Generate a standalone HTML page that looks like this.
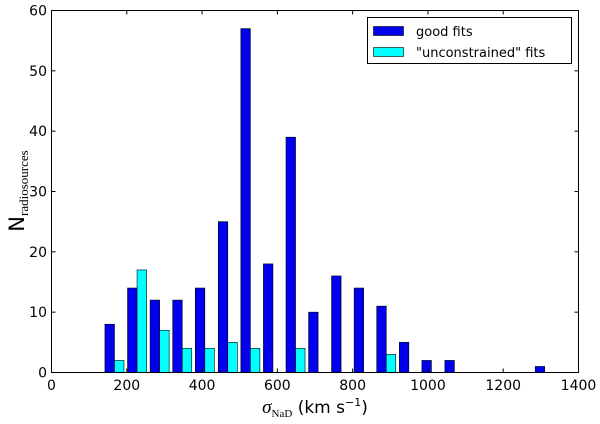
<!DOCTYPE html>
<html><head><meta charset="utf-8"><style>
body{margin:0;background:#fff;width:600px;height:419px;overflow:hidden}
svg text{font-family:"DejaVu Sans","Liberation Sans",sans-serif}
</style></head><body>
<svg id="chart" width="600" height="419" xmlns="http://www.w3.org/2000/svg">
<g id="bars"></g>
<rect x="51.5" y="10.5" width="527" height="362" fill="none" stroke="#000" stroke-width="1"/>
<g id="ticks"></g>
<text x="315" y="413" font-size="17" text-anchor="middle"><tspan font-family="Liberation Serif" font-style="italic" font-size="19">σ</tspan><tspan font-family="Liberation Serif" font-size="11" dy="4">NaD</tspan><tspan dy="-4"> (km s</tspan><tspan font-size="11" dy="-7">−1</tspan><tspan dy="7">)</tspan></text>
<text transform="translate(24,191) rotate(-90)" font-size="21" text-anchor="middle">N<tspan font-family="Liberation Serif" font-size="13" dy="4">radiosources</tspan></text>
<g>
<rect x="367.5" y="17.5" width="204" height="46" fill="#fff" stroke="#000"/>
<rect x="373.5" y="26.5" width="30" height="9" fill="#0000ee" stroke="#000" stroke-width="0.6"/>
<text x="416" y="36" font-size="13">good fits</text>
<rect x="373.5" y="47.5" width="30" height="9" fill="#00ffff" stroke="#000" stroke-width="0.6"/>
<text x="416" y="57" font-size="13">"unconstrained" fits</text>
</g>
</svg>
<script>
const binStarts=[142,202,262,322,382,443,503,563,623,683,744,804,864,924,984,1045,1105,1165,1225,1285];
const goodFits=[8,14,12,12,14,25,57,18,39,10,16,14,11,5,2,2,0,0,0,1];
const unconstrainedFits=[2,17,7,4,4,5,4,0,4,0,0,0,3,0,0,0,0,0,0,0];
const xTicks=[0,200,400,600,800,1000,1200,1400];
const yTicks=[0,10,20,30,40,50,60];
const binWidth=60.2;
const NS='http://www.w3.org/2000/svg';
const X=v=>51.5+v*(527/1400);
const Y=v=>372.5-v*(362/60);
const bars=document.getElementById('bars');
function bar(x0,val,color,name){
  if(val<=0)return;
  const r=document.createElementNS(NS,'rect');
  r.setAttribute('x',X(x0));r.setAttribute('width',X(x0+binWidth*0.42)-X(x0));
  r.setAttribute('y',Y(val));r.setAttribute('height',Y(0)-Y(val));
  r.setAttribute('fill',color);r.setAttribute('stroke','#000');r.setAttribute('stroke-width','0.6');
  
  
  bars.appendChild(r);
}
binStarts.forEach((b,i)=>{
  bar(b,goodFits[i],'#0000ee','bar-good');
  bar(b+binWidth*0.42,unconstrainedFits[i],'#00ffff','bar-unconstrained');
});
const t=document.getElementById('ticks');
function line(x1,y1,x2,y2){const l=document.createElementNS(NS,'line');l.setAttribute('x1',x1);l.setAttribute('y1',y1);l.setAttribute('x2',x2);l.setAttribute('y2',y2);l.setAttribute('stroke','#000');t.appendChild(l);}
function txt(x,y,s,a){const e=document.createElementNS(NS,'text');e.setAttribute('x',x);e.setAttribute('y',y);e.setAttribute('font-size','14');e.setAttribute('text-anchor',a);e.textContent=s;


t.appendChild(e);}
xTicks.forEach(v=>{const x=X(v);line(x,372.5,x,368.5);line(x,10.5,x,14.5);txt(x,390,String(v),'middle');});
yTicks.forEach(v=>{const y=Y(v);line(51.5,y,55.5,y);line(578.5,y,574.5,y);txt(47,y+5,String(v),'end');});
</script>
</body></html>
